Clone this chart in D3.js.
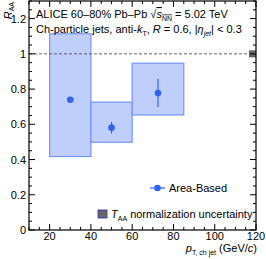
<!DOCTYPE html>
<html><head><meta charset="utf-8">
<script src="https://cdn.jsdelivr.net/npm/d3@7"></script>
<style>body{margin:0;background:#fff}svg{display:block;font-family:"Liberation Sans",Arial,sans-serif}</style>
</head><body><svg id="c" width="266" height="259"></svg>
<script>
const binLow = [20, 40, 60];
const binHigh = [40, 60, 85];
const centers = [30, 50, 72.5];
const raa = [0.739, 0.581, 0.778];
const statErr = [0.0, 0.033, 0.08];
const sysLow = [0.417, 0.498, 0.653];
const sysHigh = [1.114, 0.726, 0.947];
const taaUnc = 0.02;
const xTicks = [20, 40, 60, 80, 100, 120];
const yTicks = [0, 0.2, 0.4, 0.6, 0.8, 1, 1.2];

const svg = d3.select("#c");
const x = d3.scaleLinear().domain([10, 120]).range([29, 256]);
const y = d3.scaleLinear().domain([0, 1.3]).range([230, 1]);
const fill = "#c0cefb", stroke = "#7497fd", mk = "#2f64f6";

// sys boxes
svg.selectAll("rect.sys").data(centers).join("rect")
  .attr("x", (d,i)=>x(binLow[i])).attr("width",(d,i)=>x(binHigh[i])-x(binLow[i]))
  .attr("y",(d,i)=>y(sysHigh[i])).attr("height",(d,i)=>y(sysLow[i])-y(sysHigh[i]))
  .attr("fill", fill).attr("stroke", stroke).attr("stroke-width", 1.2);

// dashed line
svg.append("line").attr("x1", x(10)).attr("x2", x(120)).attr("y1", y(1)).attr("y2", y(1))
  .attr("stroke", "#444").attr("stroke-width", 0.8).attr("stroke-dasharray", "3,2");

// TAA box
svg.append("rect").attr("x", x(116.6)).attr("width", x(120)-x(116.6))
  .attr("y", y(1+taaUnc)).attr("height", y(1-taaUnc)-y(1+taaUnc)).attr("fill", "#666");

// stat errors
svg.selectAll("line.err").data(centers).join("line")
  .attr("x1", d=>x(d)).attr("x2", d=>x(d))
  .attr("y1",(d,i)=>y(raa[i]+statErr[i])).attr("y2",(d,i)=>y(raa[i]-statErr[i]))
  .attr("stroke", mk).attr("stroke-width", 1.2);
svg.selectAll("circle.pt").data(centers).join("circle")
  .attr("cx", d=>x(d)).attr("cy",(d,i)=>y(raa[i])).attr("r", 3.3).attr("fill", mk);

// axes (ticks inward)
const ax = svg.append("g").attr("stroke", "#000").attr("stroke-width", 1);
const xMinor = d3.range(10, 121, 5), yMinor = d3.range(0, 1.3001, 0.05);
xMinor.forEach(v=>{
  const maj = Math.abs(v%20) < 1e-6; const L = maj?6:3;
  ax.append("line").attr("x1",x(v)).attr("x2",x(v)).attr("y1",y(0)).attr("y2",y(0)-L);
  ax.append("line").attr("x1",x(v)).attr("x2",x(v)).attr("y1",y(1.3)).attr("y2",y(1.3)+L);
});
yMinor.forEach(v=>{
  const maj = Math.abs(Math.round(v*100)%20) < 1e-6; const L = maj?6:3;
  ax.append("line").attr("y1",y(v)).attr("y2",y(v)).attr("x1",x(10)).attr("x2",x(10)+L);
  ax.append("line").attr("y1",y(v)).attr("y2",y(v)).attr("x1",x(120)).attr("x2",x(120)-L);
});
svg.append("rect").attr("x", x(10)).attr("y", y(1.3)).attr("width", x(120)-x(10)).attr("height", y(0)-y(1.3))
  .attr("fill","none").attr("stroke","#000").attr("stroke-width",1.2);

const fs = 11;
svg.selectAll("text.xt").data(xTicks).join("text").attr("x", d=>x(d)).attr("y", 240)
  .attr("text-anchor","middle").attr("font-size", fs).text(d=>d);
svg.selectAll("text.yt").data(yTicks).join("text").attr("x", 26).attr("y", d=>y(d)+4)
  .attr("text-anchor","end").attr("font-size", fs).text(d=>d===0?"0":(d===1?"1":d.toFixed(1)));

// axis titles
const yt = svg.append("text").attr("transform","translate(12,2) rotate(-90)").attr("text-anchor","end").attr("font-size", fs);
yt.append("tspan").attr("font-style","italic").text("R");
yt.append("tspan").attr("font-size", 7).attr("dy", 2).text("AA");

const xt = svg.append("text").attr("x", 257).attr("y", 252).attr("text-anchor","end").attr("font-size", fs);
xt.append("tspan").attr("font-style","italic").text("p");
xt.append("tspan").attr("font-size", 7).attr("dy", 2.5).text("T, ch jet");
xt.append("tspan").attr("dy", -2.5).text(" (GeV/");
xt.append("tspan").attr("font-style","italic").text("c");
xt.append("tspan").text(")");

// header texts
const t1 = svg.append("text").attr("x", 36).attr("y", 18).attr("font-size", fs);
t1.append("tspan").text("ALICE 60–80% Pb–Pb ");
t1.append("tspan").text("√");
t1.append("tspan").attr("font-style","italic").attr("text-decoration","overline").text("s");
t1.append("tspan").attr("font-size", 7).attr("dy", 2.5).attr("text-decoration","overline").text("NN");
t1.append("tspan").attr("dy", -2.5).text(" = 5.02 TeV");

const t2 = svg.append("text").attr("x", 36).attr("y", 33).attr("font-size", fs);
t2.append("tspan").text("Ch-particle jets, anti-");
t2.append("tspan").attr("font-style","italic").text("k");
t2.append("tspan").attr("font-size", 7).attr("dy", 2.5).text("T");
t2.append("tspan").attr("dy", -2.5).text(", ");
t2.append("tspan").attr("font-style","italic").text("R");
t2.append("tspan").text(" = 0.6, |");
t2.append("tspan").attr("font-style","italic").text("η");
t2.append("tspan").attr("font-size", 7).attr("dy", 2.5).attr("font-style","italic").text("jet");
t2.append("tspan").attr("dy", -2.5).text("| < 0.3");

// legend
svg.append("line").attr("x1", 150).attr("x2", 165).attr("y1", 188).attr("y2", 188).attr("stroke", mk).attr("stroke-width", 1.2);
svg.append("circle").attr("cx", 157.5).attr("cy", 188).attr("r", 3.3).attr("fill", mk);
svg.append("text").attr("x", 169).attr("y", 192).attr("font-size", fs).text("Area-Based");

svg.append("rect").attr("x", 98).attr("y", 210).attr("width", 9).attr("height", 8).attr("fill", "#666").attr("stroke", "#33a").attr("stroke-width", 0.8);
const lt = svg.append("text").attr("x", 111).attr("y", 218).attr("font-size", fs);
lt.append("tspan").attr("font-style","italic").text("T");
lt.append("tspan").attr("font-size", 7).attr("dy", 2.5).text("AA");
lt.append("tspan").attr("dy", -2.5).text(" normalization uncertainty");
</script></body></html>
